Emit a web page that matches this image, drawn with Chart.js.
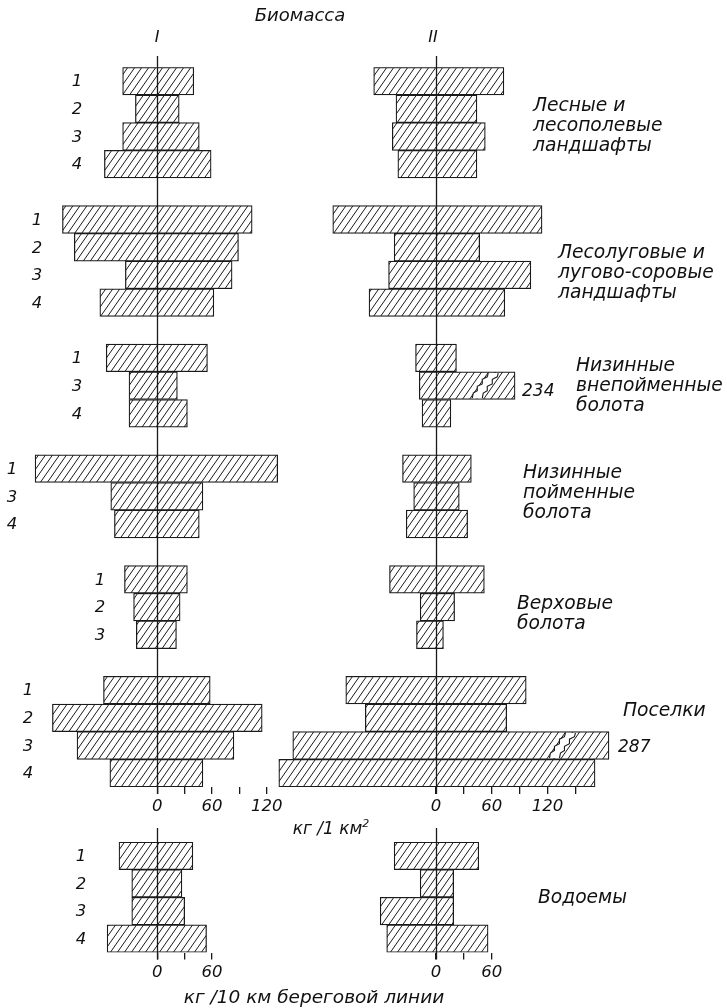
<!DOCTYPE html>
<html><head><meta charset="utf-8">
<script src="https://cdn.jsdelivr.net/npm/chart.js@4.4.1/dist/chart.umd.min.js"></script>
<style>
html,body{margin:0;padding:0;background:#fff;}
#wrap{position:relative;width:727px;height:1008px;overflow:hidden;font-family:'DejaVu Sans',sans-serif;font-style:italic;color:#111;}
canvas{position:absolute;left:0;top:0;}
.t{position:absolute;white-space:nowrap;line-height:20px;font-size:18.7px;}
.c{transform:translateX(-50%);}
.n{font-size:17px;}
</style></head><body>
<div id="wrap">
<canvas id="cTopI" width="727" height="1008"></canvas>
<canvas id="cTopII" width="727" height="1008"></canvas>
<canvas id="cBotI" width="727" height="1008"></canvas>
<canvas id="cBotII" width="727" height="1008"></canvas>
<div class="t c" style="left:300px;top:5px;font-size:18px;">Биомасса</div>
<div class="t c" style="left:157px;top:27px;font-size:16px;">I</div>
<div class="t c" style="left:433px;top:27px;font-size:16px;">II</div>
<div class="t" style="left:533px;top:95px;">Лесные и<br>лесополевые<br>ландшафты</div>
<div class="t" style="left:558px;top:242px;">Лесолуговые и<br>лугово-соровые<br>ландшафты</div>
<div class="t" style="left:576px;top:355px;">Низинные<br>внепойменные<br>болота</div>
<div class="t" style="left:523px;top:462px;">Низинные<br>пойменные<br>болота</div>
<div class="t" style="left:517px;top:593px;">Верховые<br>болота</div>
<div class="t" style="left:623px;top:700px;">Поселки</div>
<div class="t" style="left:538px;top:887px;">Водоемы</div>
<div class="t n" id="lb234" style="left:522px;top:380px;"></div>
<div class="t n" id="lb287" style="left:618px;top:736px;"></div>
<div class="t c" style="left:331px;top:818px;font-size:17px;">кг /1 км<sup style="font-size:11px;line-height:0;">2</sup></div>
<div class="t c" style="left:314px;top:987px;font-size:18.5px;">кг /10 км береговой линии</div>
</div>
<script>
// ---------- DATA ----------
const groupRowNumbers = [['1','2','3','4'],['1','2','3','4'],['1','3','4'],['1','3','4'],['1','2','3'],['1','2','3','4']];
const biomassI_low  = [-38,-24,-38,-58, -104,-91,-35,-63, -56,-31,-31, -134,-51,-47, -36,-26,-23, -59,-115,-88,-52];
const biomassI_high = [40,24,46,59, 104,89,82,62, 55,22,33, 132,50,46, 33,25,21, 58,115,84,50];
const biomassII_low  = [-67,-43,-47,-41, -111,-45,-51,-72, -22,-18,-15, -36,-24,-32, -50,-17,-21, -97,-76,-154,-169];
const biomassII_high = [73,44,53,44, 114,47,102,74, 22,85,16, 38,25,34, 52,20,8, 97,76,186,171];
const brokenValueII = [null,null,null,null, null,null,null,null, null,'234',null, null,null,null, null,null,null, null,null,'287',null];
const breakStartII  = [null,null,null,null, null,null,null,null, null,39,null, null,null,null, null,null,null, null,null,122,null];
const waterRows = ['1','2','3','4'];
const waterI_low  = [-42,-28,-28,-55];
const waterI_high = [39,27,30,54];
const waterII_low  = [-45,-17,-60,-53];
const waterII_high = [46,19,19,56];
const ticksTopI = [0,30,60,90,120];
const ticksTopII = [0,30,60,90,120,150];
const ticksBottom = [0,30,60];
const tickLabelValues = [0,60,120];

// ---------- LAYOUT ----------
const rowNumberX = [77,37,77,12,100,28];
const waterNumberX = 81;

document.getElementById('lb234').textContent = brokenValueII[9];
document.getElementById('lb287').textContent = brokenValueII[19];

const slotOfRow = [];
const slotLabels = [];
const slotNumX = [];
let r = 0;
groupRowNumbers.forEach((rows, g) => {
  rows.forEach(lbl => { slotOfRow[r++] = slotLabels.length; slotLabels.push(lbl); slotNumX.push(rowNumberX[g]); });
  if (g < groupRowNumbers.length - 1) { slotLabels.push(''); slotNumX.push(null); }
});
function toSlots(lo, hi) {
  const out = slotLabels.map(() => null);
  lo.forEach((v, i) => { out[slotOfRow[i]] = [v, hi[i]]; });
  return out;
}

function makeHatch(ctx) {
  const w = 7, h = 10, c = document.createElement('canvas');
  c.width = w; c.height = h;
  const x = c.getContext('2d');
  x.fillStyle = '#fff'; x.fillRect(0, 0, w, h);
  x.strokeStyle = '#1a1a1a'; x.lineWidth = 1;
  x.beginPath();
  x.moveTo(0, h); x.lineTo(w, 0);
  x.moveTo(-w, h); x.lineTo(0, 0);
  x.moveTo(w, h); x.lineTo(2 * w, 0);
  x.stroke();
  return ctx.createPattern(c, 'repeat');
}

const overlay = {
  id: 'overlay',
  afterDatasetsDraw(chart, args, o) {
    const ctx = chart.ctx, xs = chart.scales.x, ys = chart.scales.y, a = chart.chartArea;
    ctx.save();
    if (o.breaks) {
      const meta = chart.getDatasetMeta(0);
      o.breaks.forEach(b => {
        const el = meta.data[b.slot];
        const top = el.y - el.height / 2 + 1.3, bot = el.y + el.height / 2 - 1.3;
        const x0 = xs.getPixelForValue(b.at);
        const h = bot - top;
        const pts = [[0,0],[1,0.2],[5,0.3],[5,0.47],[10,0.57],[10,0.75],[15,0.85],[16,1]];
        const gap = 10;
        const P = (p, d) => [x0 + p[0] + d, bot - p[1] * h];
        ctx.beginPath();
        pts.forEach((p, i) => { const q = P(p, 0); i ? ctx.lineTo(q[0], q[1]) : ctx.moveTo(q[0], q[1]); });
        for (let i = pts.length - 1; i >= 0; i--) { const q = P(pts[i], gap); ctx.lineTo(q[0], q[1]); }
        ctx.closePath();
        ctx.fillStyle = '#fff'; ctx.fill();
        ctx.strokeStyle = '#1a1a1a'; ctx.lineWidth = 1.1;
        [0, gap].forEach(d => {
          ctx.beginPath();
          pts.forEach((p, i) => { const q = P(p, d); i ? ctx.lineTo(q[0], q[1]) : ctx.moveTo(q[0], q[1]); });
          ctx.stroke();
        });
      });
    }
    const cx = Math.round(xs.getPixelForValue(0)) + 0.5;
    ctx.strokeStyle = '#1a1a1a'; ctx.lineWidth = 1.3;
    ctx.beginPath(); ctx.moveTo(cx, a.top - o.extTop); ctx.lineTo(cx, a.bottom + o.extBottom); ctx.stroke();
    if (o.numbers) {
      ctx.fillStyle = '#111';
      ctx.font = 'italic 16.5px "DejaVu Sans"';
      ctx.textAlign = 'center'; ctx.textBaseline = 'middle';
      o.numbers.labels.forEach((l, i) => {
        if (!l) return;
        ctx.fillText(l, o.numbers.xs[i], ys.getPixelForValue(i) + 1);
      });
    }
    ctx.restore();
  }
};

function makeChart(id, cfg) {
  const canvas = document.getElementById(id);
  const ctx = canvas.getContext('2d');
  return new Chart(ctx, {
    type: 'bar',
    data: {
      labels: cfg.labels,
      datasets: [{
        data: cfg.data,
        backgroundColor: makeHatch(ctx),
        borderColor: '#1a1a1a',
        borderWidth: 1.25,
        borderSkipped: false,
        barPercentage: 1,
        categoryPercentage: 1
      }]
    },
    options: {
      indexAxis: 'y',
      responsive: false,
      animation: false,
      events: [],
      layout: { padding: cfg.padding },
      scales: {
        y: { type: 'category', display: false, offset: true },
        x: {
          type: 'linear', min: cfg.min, max: cfg.max,
          afterBuildTicks: s => { s.ticks = cfg.ticks.map(v => ({ value: v })); },
          afterFit: s => { s.height = cfg.axisHeight; },
          grid: { display: true, drawOnChartArea: false, drawTicks: true, tickLength: 7, color: '#1a1a1a', lineWidth: 1.3 },
          border: { display: false },
          ticks: {
            padding: 3, color: '#111', maxRotation: 0, autoSkip: false,
            font: { family: 'DejaVu Sans', style: 'italic', size: 16.5 },
            callback: v => tickLabelValues.includes(v) ? String(v) : ''
          }
        }
      },
      plugins: {
        legend: { display: false }, tooltip: { enabled: false },
        overlay: cfg.overlay
      }
    },
    plugins: [overlay]
  });
}

const H = 1008, W = 727;
const topPad = (l, r) => ({ left: l, right: W - r, top: 67.3, bottom: H - 787 - 40 });
makeChart('cTopI', {
  labels: slotLabels, data: toSlots(biomassI_low, biomassI_high),
  min: -150, max: 150, ticks: ticksTopI, axisHeight: 40,
  padding: topPad(157.3 - 150 * 0.912, 157.3 + 150 * 0.912),
  overlay: { extTop: 11.3, extBottom: 7, numbers: { labels: slotLabels, xs: slotNumX } }
});
makeChart('cTopII', {
  labels: slotLabels, data: toSlots(biomassII_low, biomassII_high),
  min: -180, max: 200, ticks: ticksTopII, axisHeight: 40,
  padding: topPad(436 - 180 * 0.93, 436 + 200 * 0.93),
  overlay: { extTop: 11.3, extBottom: 7,
    breaks: breakStartII.map((b, i) => b === null ? null : { slot: slotOfRow[i], at: b }).filter(Boolean) }
});
const botPad = (l, r) => ({ left: l, right: W - r, top: 842, bottom: H - 952.5 - 30 });
makeChart('cBotI', {
  labels: waterRows, data: waterI_low.map((v, i) => [v, waterI_high[i]]),
  min: -100, max: 100, ticks: ticksBottom, axisHeight: 30,
  padding: botPad(157.3 - 100 * 0.912, 157.3 + 100 * 0.912),
  overlay: { extTop: 14, extBottom: 7, numbers: { labels: waterRows, xs: waterRows.map(() => waterNumberX) } }
});
makeChart('cBotII', {
  labels: waterRows, data: waterII_low.map((v, i) => [v, waterII_high[i]]),
  min: -100, max: 100, ticks: ticksBottom, axisHeight: 30,
  padding: botPad(436 - 100 * 0.93, 436 + 100 * 0.93),
  overlay: { extTop: 14, extBottom: 7 }
});
</script>
</body></html>
